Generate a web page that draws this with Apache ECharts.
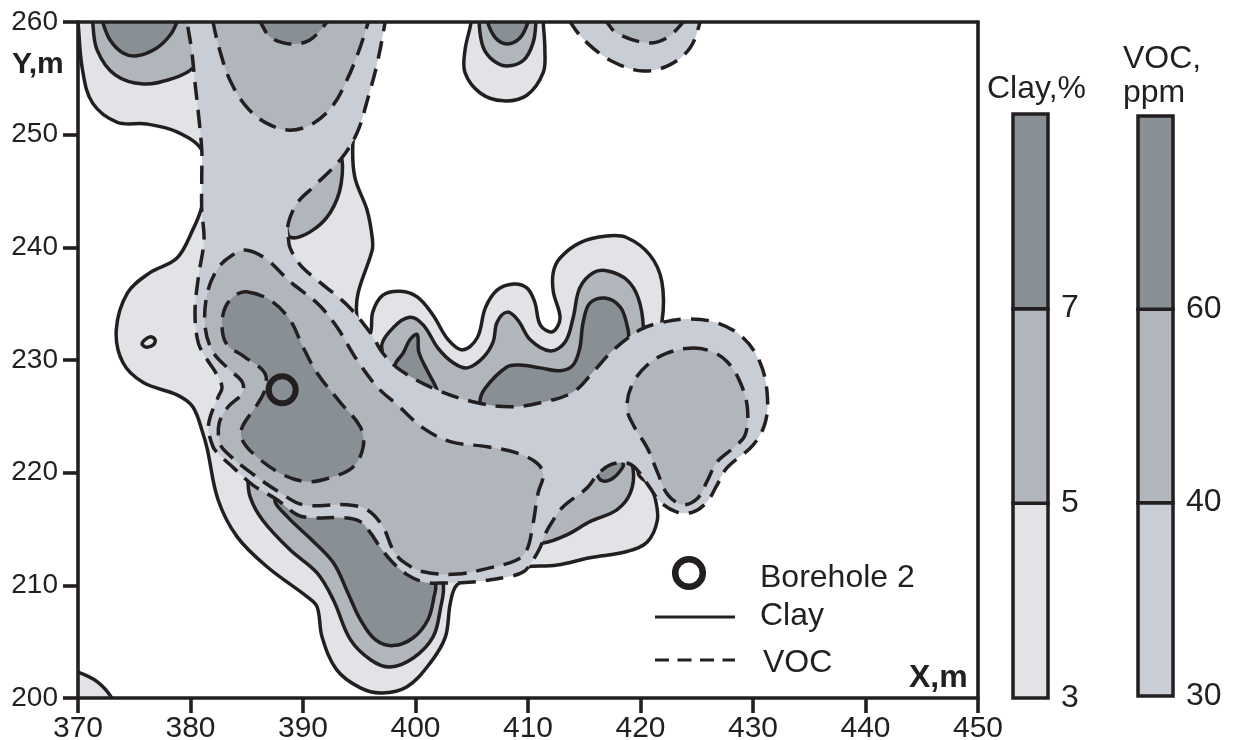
<!DOCTYPE html>
<html lang="en">
<head>
<meta charset="UTF-8">
<title>Clay and VOC</title>
<script type="text/javascript" src="https://cdn.jsdelivr.net/npm/echarts@6/dist/echarts.min.js"></script>
<style>html,body{margin:0;padding:0;background:#fff}</style>
</head>
<body>
<div id="main" style="width:1234px;height:740px;"></div>
<script>
// contour outlines, [x m, y m]
// points above y=260 only keep the curve straight where the plot frame cuts it
const clayLowMain = [[370,260],[370.4,255.75],[371.3,252.8],[373.5,251.1],[376.1,250.95],[378.8,250.25],[381,248.65],[381.3,246.25],[381,243.6],[380.2,241.55],[378.8,239.05],[376.4,237.75],[374.4,235.95],[373.4,232.65],[374,229.75],[375.8,228],[378.8,226.9],[380.2,225.85],[381.1,223.5],[381.5,222.05],[382.45,217.6],[384.15,214.3],[386.8,211.65],[390.35,209],[391.25,208.1],[391.7,205.4],[393,202.5],[395.1,200.9],[397,200.45],[399.25,201],[401.3,203.1],[402.65,205.4],[403.1,208.45],[403.7,210.05],[405.75,210.95],[408.4,211.4],[409.9,211.65],[412.6,211.8],[415.5,212.45],[418.8,213],[420.6,213.85],[421.5,215.8],[421.3,217.75],[420.85,218.9],[419.8,219.95],[420,224.7],[421.9,233.35],[421.9,236.95],[420.85,239.3],[418.8,240.85],[417,241],[414.6,240.4],[412.85,239.05],[412.25,237.8],[412.25,236.05],[412.85,233.7],[412.15,232.5],[411.1,233.1],[410.6,235.15],[409.9,236.4],[408.7,236.75],[407.25,236.2],[406.2,234.6],[405.5,232],[404.2,230.9],[402.9,231.8],[401.55,234],[400.15,235.6],[398.65,236.1],[397.1,235.75],[396.2,234.25],[396,232.4],[395.45,232],[394.8,233.8],[394.9,235.95],[396.15,239.75],[396.15,240.9],[395.7,243.3],[394.6,246.25],[394.45,249.5],[395.1,254.85],[395.1,262.5],[369,262.5],[369.9,261]];
const clayLowCorner = [[370,202.3],[371.7,201.45],[373,200],[373.5,198.5],[368.5,198.5],[368.5,202.6]];
const clayLowTop = [[405,262.5],[405,261],[404.95,260],[404.4,257.5],[404.4,255.5],[405.75,253.7],[407.8,253],[409.9,253.5],[411.35,255.5],[411.5,257.5],[411.35,260],[411.3,261],[411.3,262.5]];
const clayLowSpot = [[375.7,231.5],[376.4,232.05],[376.85,231.8],[376.7,231.35],[376,231.15]];

const clayMidLeft = [[371.2,262.5],[371.25,261],[371.3,260],[371.7,257.5],[373.3,255.3],[375.8,254.5],[378.45,255],[380.2,255.9],[381.3,257.5],[381.3,262.5]];
const clayMidSliver = [[393.2,248.2],[393.4,245.7],[392.4,243.05],[390.6,241.35],[388.85,240.9],[388.5,242.25],[388.4,243.75],[390.6,246.15]];
const clayMidTop = [[405.65,262.5],[405.65,260],[406,257.8],[406.9,256.6],[408.15,256.1],[409.6,256.6],[410.45,258.15],[410.7,260],[410.75,262.5]];
const clayMidBottom = [[385.1,219.6],[385.3,217.85],[386.4,215.8],[388.85,213.15],[391.25,211.1],[392.7,208.7],[394.2,205.2],[396,203.4],[397.75,202.75],[399.8,203.55],[401.55,205.4],[402.2,207.85],[402.45,210.2],[401.3,212.25],[394.2,217.6],[389.75,218],[385.3,220.7]];
const clayMidWave = [[397,231.05],[398,232.85],[399.5,233.8],[400.7,233.1],[402,231.05],[403.35,229.75],[404.6,229.3],[406,230.2],[406.9,231.6],[407.25,233.35],[408.15,234.25],[409.1,233.55],[410.2,231.8],[412,230.8],[413.3,231.6],[414,233.7],[414.6,236.4],[415.8,237.75],[417.1,237.9],[418.8,237.1],[419.8,235.5],[420.25,232.95],[420,231.35],[416.4,227.8],[409.3,224.7],[398.65,227.8]];
const clayMidRight = [[411.35,213.75],[413.5,214.5],[415.5,215.65],[417.9,216.7],[419.1,218.2],[419.35,220.25],[418.6,222.05],[413.75,218.5],[410.2,214]];

const clayHighLeft = [[372,262.5],[372.1,261],[372.2,260],[372.85,258.4],[374,257.25],[375.25,257],[377,257.7],[378.2,258.85],[378.8,260],[379.1,261],[379.3,262.5]];
const clayHighTop = [[406.2,262.5],[406.3,261],[406.4,260],[407.1,258.6],[408.15,258.05],[409.3,258.6],[410,260],[410.1,261],[410.2,262.5]];
const clayHighBottom = [[387.5,217.6],[388.6,216.1],[390.6,214.2],[392.7,212],[394,209.3],[395.1,206.95],[396.4,205.2],[398,204.65],[399.8,205.35],[401.1,206.95],[401.65,209],[401.75,210.2],[400.4,211.8],[393.3,217.6],[388.85,218.5]];
const clayHighPeak = [[398.2,229.55],[398.9,230.6],[399.5,231.8],[400.15,232.25],[400.3,230.7],[401.1,228.95],[401.9,227.35],[401.9,226.45],[398.65,227.8]];
const clayHighWave = [[405.75,226.2],[406.2,227.5],[408.15,229.4],[409.3,229.55],[411.1,229.3],[412.85,229.05],[414,229.55],[414.6,231.05],[414.9,233.35],[415.5,235.05],[416.85,235.5],[418.2,234.7],[418.8,233.1],[418.9,231.8],[417.3,228.7],[412.85,225.6],[406.6,224.7]];
const clayHighSmall = [[416.15,219.8],[416.7,219.25],[417.6,219.55],[418.4,220.45],[418.45,220.85],[417.75,222.05],[416,221.1]];

const vocLowMain = [[379.5,262.5],[397.5,262.5],[397.4,261],[397.3,260],[396.6,256.35],[395.8,253.35],[394.8,250.15],[393.3,247.75],[390.9,245.35],[389.5,243.95],[388.7,242.15],[388.7,240.85],[388.85,239.95],[389.75,238.45],[391.25,237.1],[393.9,234.9],[396,232.4],[397.1,230.6],[398.65,229.1],[401.9,227.35],[405.5,226.2],[408.4,225.85],[411.1,226.2],[414,227.15],[415.8,228.95],[417.6,230.9],[420,232.7],[421.75,233.3],[424.15,233.65],[426.8,233.3],[429.1,232],[430.6,229.85],[431.25,227.15],[431.1,224.5],[430,222.45],[427.7,220.45],[426.8,218.9],[425.9,217.4],[424.65,216.5],[423.25,216.5],[421.75,217.4],[420.85,218.65],[419.7,220.25],[418.8,220.85],[417.3,220.7],[416.15,219.8],[415.25,218.65],[413.1,216.95],[412.15,215.65],[411.5,214.5],[411.1,213.4],[410.45,212.25],[409.6,211.2],[408.15,210.75],[405.1,210.3],[402.45,210.2],[400.7,210.3],[399.25,210.95],[398,212],[396.85,213.4],[396,214.65],[395.1,215.65],[393.55,216],[390.9,216],[389.5,216.25],[387.7,217.6],[385.55,218.9],[383.8,220.45],[382.4,221.75],[382,222.3],[381.6,223.8],[381.75,224.95],[382.45,226.7],[382.8,227.6],[382.2,228.95],[381.5,230],[380.7,231.5],[380.4,234.2],[380.7,237.35],[381.2,240.65],[381,243.3],[381,246.25],[381,248.65],[380.7,251.9],[380.4,254.6],[380.1,257.5],[379.7,260],[379.6,261]];
const vocLowRight = [[413,262.5],[413.4,261],[413.75,260],[415.25,258.15],[417.6,256.45],[420.25,255.65],[422.6,256.2],[424.4,257.7],[425.3,260],[425.4,261],[425.5,262.5]];

const vocMidTop = [[381.8,262.5],[381.9,261],[382,260],[382.6,257.5],[383.5,254.85],[385,252.45],[386.8,251],[388.85,250.4],[390.9,251],[392.7,252.65],[393.9,254.85],[394.9,257.25],[395.8,260],[396,261],[396.2,262.5]];
const vocMidRight = [[415.5,262.5],[416.2,261],[417,260],[417.9,259],[420.6,258.15],[422.35,258.6],[423.8,260],[424.6,261],[425,262.5]];
const vocMidMain = [[385,239.75],[386.8,238.9],[388.85,236.95],[391.25,235.05],[393,232.95],[394.8,230],[396.6,227.6],[398.4,226],[400.7,223.95],[403.1,222.75],[406.4,222.3],[409,221.75],[410.8,220.85],[411.35,219.8],[410.9,218.2],[410.4,215.2],[409.9,213.15],[409,212.25],[406.6,211.55],[403.7,211],[400.7,211.2],[398.9,212.1],[398,213.15],[397.1,215.2],[395.7,216.7],[393.9,217.15],[390,217.15],[388,218.2],[385.3,220.05],[383.25,221.75],[382.6,222.65],[382.55,224.4],[383.35,225.85],[384.6,227.05],[384.6,228.05],[383.5,229.1],[382,230.7],[381.3,232.95],[381.5,235.95],[382.45,238.15],[383.7,239.3]];
const vocMidLobe = [[424.4,231.05],[426.2,230.8],[427.7,229.85],[428.85,228.05],[429.5,225.75],[429.3,223.35],[428.25,222.2],[426.8,220.95],[425.9,219.2],[425.1,217.75],[423.8,217.15],[422.45,218],[421.5,220.05],[420.6,222.2],[419.35,224.25],[418.8,225.75],[419.25,227.8],[420.6,229.55],[422.35,230.6]];

const vocHighTop = [[385,262.5],[385.5,261],[386.2,260],[387.1,258.65],[388.85,258.05],[390.6,258.4],[392.15,260],[393,261],[393.5,262.5]];
const vocHighMain = [[385,236.05],[387.1,235.3],[388.85,233.55],[390,231.15],[391.25,228.85],[393.3,226.25],[395.1,224.05],[395.35,222.3],[394.45,220.5],[392.4,219.55],[390.35,219.2],[388.25,219.8],[385.9,221.4],[384.6,222.9],[384.6,224.05],[385.9,226],[386.6,227.35],[386.6,228.85],[384.7,230.35],[383.25,231.35],[382.8,232.95],[383.1,234.7],[384,235.75]];

const borehole = [[388.15,227.35]];
const xTicks = [370,380,390,400,410,420,430,440,450];
const yTicks = [200,210,220,230,240,250,260];
const clayScale = ['3','5','7',''];
const vocScale = ['30','40','60',''];
const clayBandColors = ['#e1e3e7','#b1b6bd','#888f95'];
const vocBandColors = ['#c9cdd5','#b1b6bd','#888f95'];

const INK = '#231f20';
const FONT = '"Liberation Sans", Arial, sans-serif';
const COLOR_CLAY_LOW = '#e1e3e7', COLOR_VOC_LOW = '#c9cdd5', COLOR_MID = '#b1b6bd', COLOR_HIGH = '#888f95';
const DASH = [18, 10];

function contour(points, fill, dashed) {
    return {
        type: 'custom',
        coordinateSystem: 'cartesian2d',
        xAxisIndex: 0, yAxisIndex: 0,
        clip: true,
        silent: true,
        animation: false,
        encode: {x: 0, y: 1},
        data: points,
        renderItem: function (params, api) {
            if (params.context.rendered) return;
            params.context.rendered = true;
            return {
                type: 'polygon',
                shape: {points: points.map(p => api.coord(p)), smooth: 0.36},
                style: {fill: fill, stroke: INK, lineWidth: 3.5, lineDash: dashed ? DASH : null, lineJoin: 'round'}
            };
        }
    };
}

function bands(colors, gridIndex) {
    return {
        type: 'custom',
        xAxisIndex: gridIndex, yAxisIndex: gridIndex,
        silent: true,
        animation: false,
        encode: {x: 0, y: [1, 2]},
        data: colors.map((c, i) => [0, i, i + 1]),
        z: 1,
        renderItem: function (params, api) {
            const a = api.coord([0, api.value(1)]);
            const b = api.coord([1, api.value(2)]);
            return {
                type: 'rect',
                shape: {x: a[0], y: b[1], width: b[0] - a[0], height: a[1] - b[1]},
                style: {fill: colors[params.dataIndex], stroke: INK, lineWidth: 3.5}
            };
        }
    };
}

function scaleAxes(labels, gridIndex) {
    return {
        x: {gridIndex: gridIndex, type: 'value', min: 0, max: 1, show: false},
        y: {
            gridIndex: gridIndex, type: 'value', min: 0, max: 3, interval: 1, position: 'right', z: 5,
            axisLine: {show: false},
            axisTick: {show: true, length: 5, customValues: [1, 2], lineStyle: {color: INK, width: 3}},
            axisLabel: {margin: 13, color: INK, fontSize: 32, fontFamily: FONT, customValues: [0, 1, 2], formatter: v => labels[v]},
            splitLine: {show: false}
        }
    };
}

const clayAxes = scaleAxes(clayScale, 1);
const vocAxes = scaleAxes(vocScale, 2);

function txt(x, y, text, size, weight) {
    return {type: 'text', left: x, top: y, z: 100, style: {text: text, fill: INK, font: (weight || 'normal') + ' ' + size + 'px ' + FONT}};
}

const option = {
    backgroundColor: '#fff',
    animation: false,
    grid: [
        {left: 78, top: 22, width: 900, height: 676, outerBoundsMode: 'none'},
        {left: 1013, top: 114, width: 35, height: 584, outerBoundsMode: 'none'},
        {left: 1138, top: 116, width: 35, height: 580, outerBoundsMode: 'none'}
    ],
    xAxis: [
        {
            gridIndex: 0, type: 'value', min: 370, max: 450, interval: 10, z: 10,
            axisLine: {show: true, onZero: false, lineStyle: {color: INK, width: 3.6}},
            axisTick: {show: true, length: 15, lineStyle: {color: INK, width: 3.6}},
            axisLabel: {color: INK, fontSize: 30, fontFamily: FONT, margin: 16, customValues: xTicks, formatter: v => String(v)},
            splitLine: {show: false}
        },
        clayAxes.x, vocAxes.x,
        {
            gridIndex: 0, type: 'value', min: 370, max: 450, position: 'top', z: 10,
            axisLine: {show: true, onZero: false, lineStyle: {color: INK, width: 3.6}},
            axisTick: {show: false}, axisLabel: {show: false}, splitLine: {show: false}
        }
    ],
    yAxis: [
        {
            gridIndex: 0, type: 'value', min: 200, max: 260, interval: 10, z: 10,
            axisLine: {show: true, onZero: false, lineStyle: {color: INK, width: 3.6}},
            axisTick: {show: true, length: 15, lineStyle: {color: INK, width: 3.6}},
            axisLabel: {color: INK, fontSize: 28, fontFamily: FONT, margin: 20, customValues: yTicks, formatter: v => String(v)},
            splitLine: {show: false}
        },
        clayAxes.y, vocAxes.y,
        {
            gridIndex: 0, type: 'value', min: 200, max: 260, position: 'right', z: 10,
            axisLine: {show: true, onZero: false, lineStyle: {color: INK, width: 3.6}},
            axisTick: {show: false}, axisLabel: {show: false}, splitLine: {show: false}
        }
    ],
    series: [
        contour(clayLowMain, COLOR_CLAY_LOW),
        contour(clayLowCorner, COLOR_CLAY_LOW),
        contour(clayLowTop, COLOR_CLAY_LOW),
        contour(clayLowSpot, COLOR_CLAY_LOW),
        contour(clayMidLeft, COLOR_MID),
        contour(clayMidSliver, COLOR_MID),
        contour(clayMidTop, COLOR_MID),
        contour(clayMidBottom, COLOR_MID),
        contour(clayMidWave, COLOR_MID),
        contour(clayMidRight, COLOR_MID),
        contour(clayHighLeft, COLOR_HIGH),
        contour(clayHighTop, COLOR_HIGH),
        contour(clayHighBottom, COLOR_HIGH),
        contour(clayHighPeak, COLOR_HIGH),
        contour(clayHighWave, COLOR_HIGH),
        contour(clayHighSmall, COLOR_HIGH),
        contour(vocLowMain, COLOR_VOC_LOW, true),
        contour(vocLowRight, COLOR_VOC_LOW, true),
        contour(vocMidTop, COLOR_MID, true),
        contour(vocMidRight, COLOR_MID, true),
        contour(vocMidMain, COLOR_MID, true),
        contour(vocMidLobe, COLOR_MID, true),
        contour(vocHighTop, COLOR_HIGH, true),
        contour(vocHighMain, COLOR_HIGH, true),
        {
            type: 'scatter', xAxisIndex: 0, yAxisIndex: 0, data: borehole, silent: true, z: 5,
            symbol: 'circle', symbolSize: 27,
            itemStyle: {color: 'transparent', borderColor: INK, borderWidth: 6, opacity: 1}
        },
        bands(clayBandColors, 1),
        bands(vocBandColors, 2)
    ],
    graphic: [
        txt(12, 50, 'Y,m', 30, 'bold'),
        txt(909, 662, 'X,m', 32, 'bold'),
        txt(987, 73, 'Clay,%', 32),
        txt(1123, 43, 'VOC,', 32),
        txt(1123, 77, 'ppm', 32),
        txt(760, 562, 'Borehole 2', 32),
        txt(760, 600, 'Clay', 32),
        txt(763, 647, 'VOC', 32),
        {type: 'circle', z: 100, shape: {cx: 689, cy: 573, r: 13.8}, style: {fill: 'transparent', stroke: INK, lineWidth: 6.5}},
        {type: 'line', z: 100, shape: {x1: 655, y1: 617, x2: 735, y2: 617}, style: {stroke: INK, lineWidth: 3}},
        {type: 'line', z: 100, shape: {x1: 655, y1: 660, x2: 735, y2: 660}, style: {stroke: INK, lineWidth: 3, lineDash: [14, 8.5]}}
    ]
};

const myChart = echarts.init(document.getElementById('main'), null, {renderer: 'canvas'});
myChart.setOption(option);
</script>
</body>
</html>
